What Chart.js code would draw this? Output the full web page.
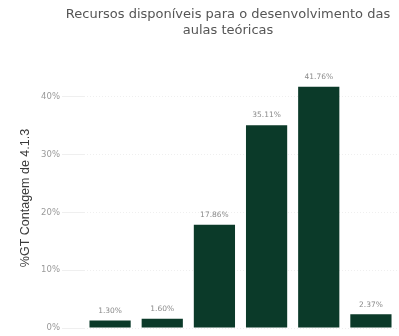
<!DOCTYPE html>
<html>
<head>
<meta charset="utf-8">
<script src="https://cdn.jsdelivr.net/npm/chart.js@4/dist/chart.umd.min.js"></script>
<style>
  html, body { margin: 0; padding: 0; background: #fff; overflow: hidden; }
  #wrap { width: 399px; height: 349px; }
</style>
</head>
<body>
<div id="wrap"><canvas id="c" width="399" height="349"></canvas></div>
<script>
const TITLE_LINES = ['Recursos disponíveis para o desenvolvimento das', 'aulas teóricas'];
const CATEGORIES = ['1', '2', '3', '4', '5', 'N/A'];
const SHARES = [1.30, 1.60, 17.86, 35.11, 41.76, 2.37];
const Y_TICKS = [0, 10, 20, 30, 40];
const Y_TITLE = '%GT Contagem de 4.1.3';

const BAR_COLOR = '#0b3a29';

// two-line heading centred over the page, drawn above the plot
const headingPlugin = {
  id: 'heading',
  afterDraw(chart){
    const ctx = chart.ctx;
    ctx.save();
    ctx.fillStyle = '#555555';
    ctx.font = '13px "DejaVu Sans"';
    ctx.textAlign = 'center';
    ctx.textBaseline = 'middle';
    TITLE_LINES.forEach((line, i) => ctx.fillText(line, 228, 15 + i*16));
    ctx.restore();
  }
};

// value labels over each bar
const valueLabels = {
  id: 'valueLabels',
  afterDatasetsDraw(chart){
    const ctx = chart.ctx;
    const meta = chart.getDatasetMeta(0);
    const values = chart.data.datasets[0].data;
    ctx.save();
    ctx.fillStyle = '#8a8a8a';
    ctx.font = '7.5px "DejaVu Sans"';
    ctx.textAlign = 'center';
    ctx.textBaseline = 'bottom';
    meta.data.forEach((bar, i) => {
      ctx.fillText(values[i].toFixed(2) + '%', bar.x, bar.y - 6);
    });
    ctx.restore();
  }
};

new Chart(document.getElementById('c'), {
  type: 'bar',
  data: {
    labels: CATEGORIES,
    datasets: [{
      data: SHARES,
      backgroundColor: BAR_COLOR,
      borderWidth: 0,
      categoryPercentage: 0.79,
      barPercentage: 1
    }]
  },
  options: {
    responsive: false,
    animation: false,
    events: [],
    layout: { padding: { top: 68, left: 18, right: 2, bottom: 0 } },
    plugins: {
      legend: { display: false },
      title: { display: false },
      tooltip: { enabled: false }
    },
    scales: {
      x: {
        grid: { display: false },
        border: { display: false },
        ticks: { color: '#6a6a6a', font: { family: 'DejaVu Sans', size: 7.5 }, padding: 2 }
      },
      y: {
        min: 0,
        max: 45,
        afterBuildTicks(scale){ scale.ticks = Y_TICKS.map(v => ({ value: v })); },
        afterFit(scale){ scale.width = 66; },
        grid: { color: '#efefef', drawTicks: true, tickLength: 22 },
        border: { display: false, dash: [1, 2] },
        ticks: {
          color: '#9a9a9a',
          font: { family: 'DejaVu Sans', size: 8.5 },
          padding: 2,
          callback: v => v + '%'
        },
        title: {
          display: true,
          text: Y_TITLE,
          color: '#3a3a3a',
          font: { family: 'Liberation Sans', size: 12.5 },
          padding: { top: 0, bottom: 4 }
        }
      }
    }
  },
  plugins: [headingPlugin, valueLabels]
});
</script>
</body>
</html>
